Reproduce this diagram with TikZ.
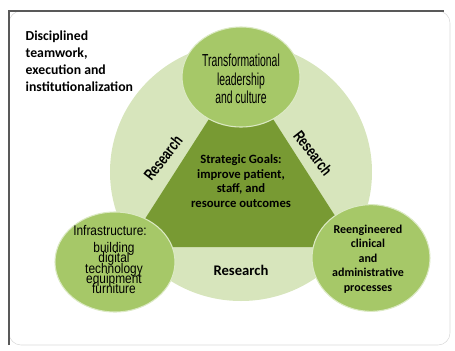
\documentclass[tikz,border=0pt]{standalone}
\usepackage{fontspec}
\setmainfont{Carlito}
\newfontfamily\narrowfont[FakeStretch=0.6]{Liberation Sans}
\newfontfamily\semifont[FakeStretch=0.85]{Liberation Sans}
\newfontfamily\narrowbold[FakeStretch=0.72]{Liberation Sans Bold}
\newcommand\tightlines{\lineskiplimit=-20pt\relax}
\usetikzlibrary{shapes.geometric}

\definecolor{palegreen}{HTML}{D7E5BC}
\definecolor{leafgreen}{HTML}{A6C868}
\definecolor{olivegreen}{HTML}{789A33}

\begin{document}
\begin{tikzpicture}[x=0.75pt,y=-0.75pt,
  pillar/.style={ellipse,fill=leafgreen,draw=white!60!leafgreen,line width=0.8pt,inner sep=0pt},
  bodytext/.style={align=center,font=\bfseries\fontsize{9.5}{11}\selectfont},
  researchtag/.style={font=\narrowbold\fontsize{12}{13}\selectfont,inner sep=1pt}]
\useasboundingbox (0,0) rectangle (455,351);
% frame
\draw[black!15,rounded corners=9] (9,11) rectangle (450,345);
\draw[black!65,line width=1pt] (9,345)--(9,11)--(444,11);
\node[anchor=north west,align=left,font=\bfseries\fontsize{10.3}{12.8}\selectfont] (motto) at (21,26)
  {Disciplined\\teamwork,\\execution and\\institutionalization};
% outer ring and goal triangle
\fill[palegreen] (241,172) ellipse [x radius=131, y radius=129];
\fill[olivegreen] (241,69)--(127,247)--(355,247)--cycle;
\node[bodytext] (goals) at (241,181)
  {Strategic Goals:\\improve patient,\\staff, and\\resource outcomes};
% research labels
\node[bodytext,font=\bfseries\fontsize{11}{13}\selectfont] (resbottom) at (241,270) {Research};
\node[researchtag,rotate=52] (resleft) at (163,158) {Research};
\node[researchtag,rotate=-52] (resright) at (313,153) {Research};
% the three pillars
\node[pillar,minimum width=88.5pt,minimum height=75pt] (lead) at (241,77) {};
\node[pillar,minimum width=90pt,minimum height=75pt] (infra) at (115,262) {};
\node[pillar,minimum width=88.5pt,minimum height=80pt] (process) at (371,258) {};
\node[align=center,font=\narrowfont\fontsize{13}{14}\selectfont] (leadtext) at (241,79)
  {Transformational\\leadership\\and culture};
\node[font=\semifont\fontsize{10.5}{12}\selectfont] (infratitle) at (110,230) {Infrastructure:};
\node[align=center,font=\semifont\fontsize{10.5}{7.7}\selectfont\tightlines] (infratext) at (114,268)
  {building\\digital\\technology\\equipment\\furniture};
\node[bodytext,font=\bfseries\fontsize{9}{10.9}\selectfont] (proctext) at (368,259)
  {Reengineered\\clinical\\and\\administrative\\processes};
\end{tikzpicture}
\end{document}
